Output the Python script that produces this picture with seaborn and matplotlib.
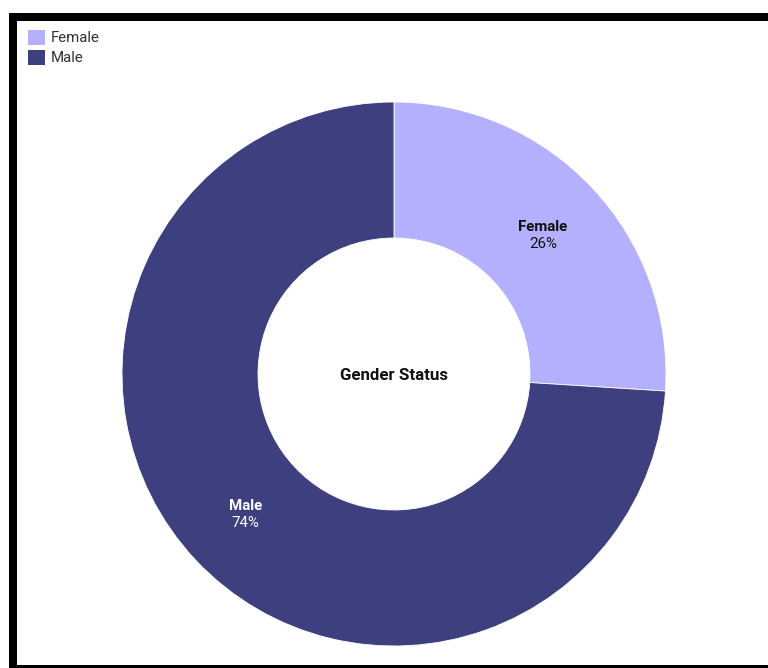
import matplotlib
matplotlib.use("Agg")
import matplotlib.pyplot as plt
from matplotlib.patches import Rectangle, Patch
import seaborn as sns
import numpy as np

categories = ["Female", "Male"]
values = [26, 74]
colors = ["#b4b0fe", "#3d3f7e"]
label_colors = ["#111111", "#ffffff"]
center_title = "Gender Status"

sns.set_style("white")
plt.rcParams['font.family'] = ['Roboto', 'DejaVu Sans']

W, H = 768, 668
fig = plt.figure(figsize=(W/100, H/100), dpi=100)
fig.patch.set_facecolor("white")

# frame (black border partially cropped)
def px_rect(x0, y0, w, h):
    return Rectangle((x0/W, 1-(y0+h)/H), w/W, h/H, transform=fig.transFigure,
                     facecolor="black", edgecolor="none", zorder=0)
fig.patches.append(px_rect(9, 13, 8, 655))      # left
fig.patches.append(px_rect(9, 13, 759, 8))      # top
fig.patches.append(px_rect(9, 665, 759, 3))     # bottom

cx, cy, R = 394, 374, 272
ax = fig.add_axes([(cx-R)/W, (H-cy-R)/H, 2*R/W, 2*R/H])
wedges, _ = ax.pie(values, colors=colors, startangle=90, counterclock=False,
                   radius=1.0, wedgeprops=dict(width=0.5, edgecolor="white", linewidth=0.6))
ax.set_xlim(-1, 1); ax.set_ylim(-1, 1); ax.set_aspect("equal")
ax.axis("off")

for w, cat, v, lc in zip(wedges, categories, values, label_colors):
    ang = np.deg2rad((w.theta1 + w.theta2) / 2)
    r = 0.75
    x, y = r*np.cos(ang), r*np.sin(ang) - 0.004
    ax.text(x, y + 0.031, cat, ha="center", va="center", fontsize=10.8, fontweight="bold", color=lc)
    ax.text(x, y - 0.031, f"{v}%", ha="center", va="center", fontsize=10.8, color=lc)

ax.text(0, -0.007, center_title, ha="center", va="center", fontsize=12.2, fontweight="bold", color="#111111")

handles = [Patch(facecolor=c, edgecolor="none") for c in colors]
fig.legend(handles, categories, loc="upper left", bbox_to_anchor=(28/W, 1-30/H),
           frameon=False, fontsize=10.8, handlelength=1.13, handleheight=1.13,
           handletextpad=0.4, labelspacing=0.3, borderpad=0, borderaxespad=0,
           labelcolor="#333333")

fig.savefig("out.png", dpi=100, facecolor="white")
